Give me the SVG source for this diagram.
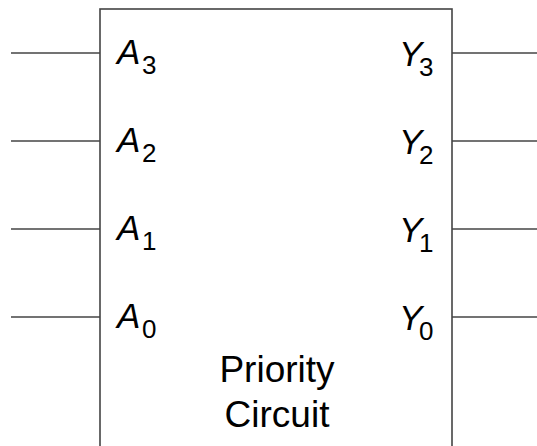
<svg xmlns="http://www.w3.org/2000/svg" width="537" height="446" viewBox="0 0 537 446">
  <style>
    .wire { stroke: #444; stroke-width: 1.6; fill: none; }
    .box { stroke: #444; stroke-width: 1.6; fill: #fff; }
    .sym { font-family: "Liberation Sans", Arial, sans-serif; font-style: italic; font-size: 35px; fill: #000; }
    .sub { font-family: "Liberation Sans", Arial, sans-serif; font-style: normal; font-size: 26px; fill: #000; }
    .title { font-family: "Liberation Sans", Arial, sans-serif; font-size: 37px; fill: #000; text-anchor: middle; }
  </style>
  <rect width="537" height="446" fill="#fff"/>

  <!-- input and output wires -->
  <g id="connectors">
    <line class="wire" x1="11" y1="53" x2="100" y2="53"/>
    <line class="wire" x1="11" y1="141" x2="100" y2="141"/>
    <line class="wire" x1="11" y1="229" x2="100" y2="229"/>
    <line class="wire" x1="11" y1="317" x2="100" y2="317"/>
    <line class="wire" x1="452" y1="53" x2="537" y2="53"/>
    <line class="wire" x1="452" y1="141" x2="537" y2="141"/>
    <line class="wire" x1="452" y1="229" x2="537" y2="229"/>
    <line class="wire" x1="452" y1="317" x2="537" y2="317"/>
  </g>

  <!-- priority circuit block -->
  <g id="priority-circuit">
    <rect class="box" x="100" y="9" width="352" height="460"/>
    <text class="sym" x="117" y="64">A<tspan class="sub" x="142" y="74">3</tspan></text>
    <text class="sym" x="117" y="152">A<tspan class="sub" x="142" y="162">2</tspan></text>
    <text class="sym" x="117" y="240">A<tspan class="sub" x="142" y="250">1</tspan></text>
    <text class="sym" x="117" y="328">A<tspan class="sub" x="142" y="338">0</tspan></text>

    <text class="sym" x="399" y="66">Y<tspan class="sub" x="419" y="76">3</tspan></text>
    <text class="sym" x="399" y="154">Y<tspan class="sub" x="419" y="164">2</tspan></text>
    <text class="sym" x="399" y="242">Y<tspan class="sub" x="419" y="252">1</tspan></text>
    <text class="sym" x="399" y="330">Y<tspan class="sub" x="419" y="340">0</tspan></text>

    <text class="title" x="277" y="382">Priority</text>
    <text class="title" x="277" y="427">Circuit</text>
  </g>
</svg>
